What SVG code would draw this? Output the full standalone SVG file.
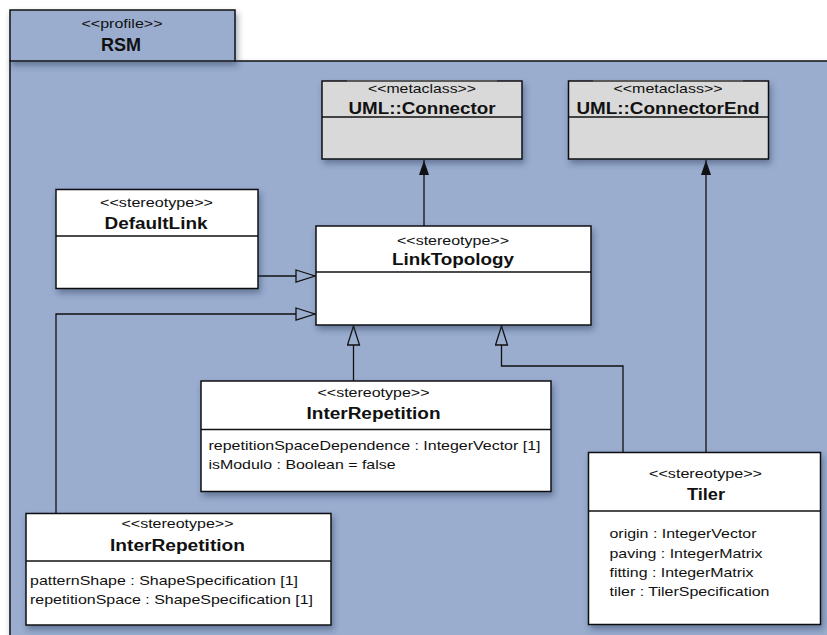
<svg xmlns="http://www.w3.org/2000/svg" width="827" height="635" viewBox="0 0 827 635">
<style>
.frame{fill:#9aadcf;stroke:#111;stroke-width:1.5}
.box{fill:#ffffff;stroke:#111;stroke-width:1.5}
.meta{fill:#d9d9d9;stroke:#111;stroke-width:1.5}
.div{stroke:#111;stroke-width:1.3}
.st{font-family:"Liberation Sans",Arial,sans-serif;font-size:13px;fill:#111;text-anchor:middle}
.nm{font-family:"Liberation Sans",Arial,sans-serif;font-size:16px;font-weight:bold;fill:#111;text-anchor:middle}
.at{font-family:"Liberation Sans",Arial,sans-serif;font-size:13px;fill:#111}
.cn{fill:none;stroke:#111;stroke-width:1.3}
</style>
<defs>
<filter id="sh" x="-10%" y="-10%" width="130%" height="140%">
<feDropShadow dx="2" dy="4" stdDeviation="3" flood-color="#223355" flood-opacity="0.45"/>
</filter>
<marker id="gen" markerWidth="22" markerHeight="16" refX="20" refY="7" orient="auto" markerUnits="userSpaceOnUse">
<path d="M1,1 L20,7 L1,13 Z" fill="#9aadcf" stroke="#111" stroke-width="1.3"/>
</marker>
<marker id="nav" markerWidth="18" markerHeight="12" refX="15" refY="5.5" orient="auto" markerUnits="userSpaceOnUse">
<path d="M0,0.5 L15,5.5 L0,10.5 Z" fill="#111"/>
</marker>
</defs>
<rect x="0" y="0" width="827" height="635" fill="#ffffff"/>
<g id="profile-RSM">
<rect class="frame" x="10" y="61" width="830" height="590" filter="url(#sh)"/>
<rect class="frame" x="10" y="10" width="225" height="51" filter="url(#sh)"/>
<rect x="10.75" y="60" width="223.5" height="2" fill="#9aadcf"/>
<line class="div" x1="10" y1="61" x2="235" y2="61"/>
<text class="st" x="122" y="28" textLength="81" lengthAdjust="spacingAndGlyphs">&lt;&lt;profile&gt;&gt;</text>
<text class="nm" x="121" y="51" font-size="18" style="font-size:18px">RSM</text>
</g>
<g id="connectors">
<path class="cn" d="M258,276 H315" marker-end="url(#gen)"/>
<path class="cn" d="M56,513 V314 H315" marker-end="url(#gen)"/>
<path class="cn" d="M353.5,381 V326" marker-end="url(#gen)"/>
<path class="cn" d="M623,452 V366 H501.5 V326" marker-end="url(#gen)"/>
<path class="cn" d="M424,226 V160" marker-end="url(#nav)"/>
<path class="cn" d="M706,452 V160" marker-end="url(#nav)"/>
</g>
<g id="UML-Connector">
<rect class="meta" x="322" y="81" width="200" height="78" filter="url(#sh)"/>
<line class="div" x1="322" y1="117" x2="522" y2="117"/>
<line x1="347" y1="81" x2="497" y2="81" stroke="#666" stroke-width="1.5"/>
<text class="st" x="422" y="93" textLength="108" lengthAdjust="spacingAndGlyphs">&lt;&lt;metaclass&gt;&gt;</text>
<text class="nm" x="422" y="114" textLength="147" lengthAdjust="spacingAndGlyphs">UML::Connector</text>
</g>
<g id="UML-ConnectorEnd">
<rect class="meta" x="568.5" y="81" width="200" height="78" filter="url(#sh)"/>
<line class="div" x1="568.5" y1="117" x2="768.5" y2="117"/>
<line x1="593" y1="81" x2="743" y2="81" stroke="#666" stroke-width="1.5"/>
<text class="st" x="668" y="93" textLength="109" lengthAdjust="spacingAndGlyphs">&lt;&lt;metaclass&gt;&gt;</text>
<text class="nm" x="668" y="114" textLength="183" lengthAdjust="spacingAndGlyphs">UML::ConnectorEnd</text>
</g>
<g id="DefaultLink">
<rect class="box" x="56" y="189.5" width="202" height="99" filter="url(#sh)"/>
<line class="div" x1="56" y1="236" x2="258" y2="236"/>
<text class="st" x="156.5" y="207" textLength="113" lengthAdjust="spacingAndGlyphs">&lt;&lt;stereotype&gt;&gt;</text>
<text class="nm" x="156" y="229" textLength="103" lengthAdjust="spacingAndGlyphs">DefaultLink</text>
</g>
<g id="LinkTopology">
<rect class="box" x="316" y="226" width="275" height="99" filter="url(#sh)"/>
<line class="div" x1="316" y1="272" x2="591" y2="272"/>
<text class="st" x="453" y="245" textLength="112" lengthAdjust="spacingAndGlyphs">&lt;&lt;stereotype&gt;&gt;</text>
<text class="nm" x="453" y="265" textLength="122" lengthAdjust="spacingAndGlyphs">LinkTopology</text>
</g>
<g id="InterRepetition-1">
<rect class="box" x="201" y="381" width="350" height="110.5" filter="url(#sh)"/>
<line class="div" x1="201" y1="429.5" x2="551" y2="429.5"/>
<text class="st" x="373.5" y="396.5" textLength="112" lengthAdjust="spacingAndGlyphs">&lt;&lt;stereotype&gt;&gt;</text>
<text class="nm" x="373.5" y="419" textLength="134" lengthAdjust="spacingAndGlyphs">InterRepetition</text>
<text class="at" x="208.5" y="450" textLength="332" lengthAdjust="spacingAndGlyphs">repetitionSpaceDependence : IntegerVector [1]</text>
<text class="at" x="208.5" y="468.5" textLength="187" lengthAdjust="spacingAndGlyphs">isModulo : Boolean = false</text>
</g>
<g id="InterRepetition-2">
<rect class="box" x="26" y="513.5" width="305" height="111.5" filter="url(#sh)"/>
<line class="div" x1="26" y1="561" x2="331" y2="561"/>
<text class="st" x="177.5" y="528" textLength="112" lengthAdjust="spacingAndGlyphs">&lt;&lt;stereotype&gt;&gt;</text>
<text class="nm" x="177.5" y="551" textLength="135" lengthAdjust="spacingAndGlyphs">InterRepetition</text>
<text class="at" x="30" y="585" textLength="268" lengthAdjust="spacingAndGlyphs">patternShape : ShapeSpecification [1]</text>
<text class="at" x="30" y="604" textLength="283" lengthAdjust="spacingAndGlyphs">repetitionSpace : ShapeSpecification [1]</text>
</g>
<g id="Tiler">
<rect class="box" x="588.5" y="452.5" width="232" height="172" filter="url(#sh)"/>
<line class="div" x1="588.5" y1="511" x2="820.5" y2="511"/>
<text class="st" x="705.5" y="478" textLength="113" lengthAdjust="spacingAndGlyphs">&lt;&lt;stereotype&gt;&gt;</text>
<text class="nm" x="706" y="500" textLength="38" lengthAdjust="spacingAndGlyphs">Tiler</text>
<text class="at" x="609.5" y="538" textLength="147" lengthAdjust="spacingAndGlyphs">origin : IntegerVector</text>
<text class="at" x="609.5" y="557.5" textLength="153" lengthAdjust="spacingAndGlyphs">paving : IntegerMatrix</text>
<text class="at" x="609.5" y="577" textLength="144" lengthAdjust="spacingAndGlyphs">fitting : IntegerMatrix</text>
<text class="at" x="609.5" y="596" textLength="160" lengthAdjust="spacingAndGlyphs">tiler : TilerSpecification</text>
</g>
</svg>
